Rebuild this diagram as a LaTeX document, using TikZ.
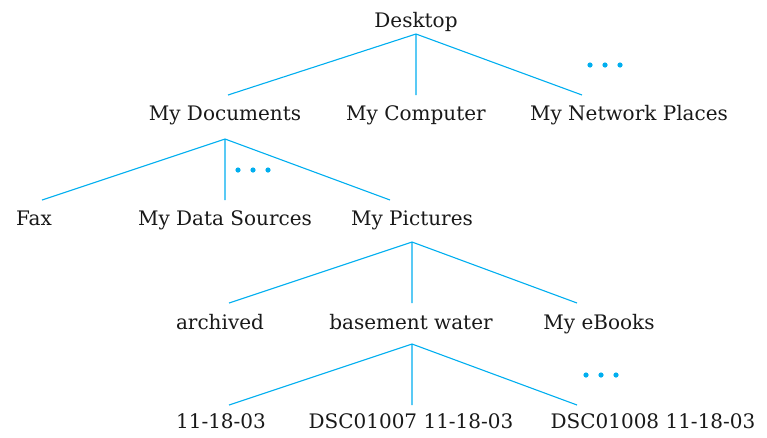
\documentclass[tikz,border=0pt]{standalone}
\usepackage{fontspec}
\setmainfont{DejaVu Serif}
\definecolor{cy}{RGB}{0,174,239}
\begin{document}
\begin{tikzpicture}[x=1pt,y=-1pt,
  lbl/.style={inner sep=0pt,anchor=base,font=\fontsize{20}{24}\selectfont,text=black!90},
  edge/.style={draw=cy,line width=1.1pt},
  dotm/.style={fill=cy,draw=none}]
\useasboundingbox (0,0) rectangle (767,437);
% texts
\node[lbl] (desk) at (416,27) {Desktop};
\node[lbl] (mydoc) at (225,120) {My Documents};
\node[lbl] (mycomp) at (416,120) {My Computer};
\node[lbl] (mynet) at (629,120) {My Network Places};
\node[lbl] (fax) at (34,225) {Fax};
\node[lbl] (mds) at (225,225) {My Data Sources};
\node[lbl] (mypic) at (412,225) {My Pictures};
\node[lbl] (arch) at (220,329) {archived};
\node[lbl] (base) at (411,329) {basement water};
\node[lbl] (ebook) at (599,329) {My eBooks};
\node[lbl] (f1) at (221,428) {11-18-03};
\node[lbl] (f2) at (411,428) {DSC01007 11-18-03};
\node[lbl] (f3) at (653,428) {DSC01008 11-18-03};
% junctions and line ends
\coordinate (j1) at (416,34);
\coordinate (e1a) at (228,95);
\coordinate (e1b) at (416,95);
\coordinate (e1c) at (582,95);
\coordinate (j2) at (225,139);
\coordinate (e2a) at (42,200);
\coordinate (e2b) at (225,200);
\coordinate (e2c) at (390,200);
\coordinate (j3) at (412,242);
\coordinate (e3a) at (229,303);
\coordinate (e3b) at (412,303);
\coordinate (e3c) at (577,303);
\coordinate (j4) at (412,344);
\coordinate (e4a) at (229,405);
\coordinate (e4b) at (412,405);
\coordinate (e4c) at (577,405);
\draw[edge] (e1a) -- (j1) -- (e1c) (j1) -- (e1b);
\draw[edge] (e2a) -- (j2) -- (e2c) (j2) -- (e2b);
\draw[edge] (e3a) -- (j3) -- (e3c) (j3) -- (e3b);
\draw[edge] (e4a) -- (j4) -- (e4c) (j4) -- (e4b);
% dots
\foreach \x in {590,605,620} \fill[dotm] (\x,65) circle (2.6);
\foreach \x in {238,253,268} \fill[dotm] (\x,170) circle (2.6);
\foreach \x in {586,601,616} \fill[dotm] (\x,375) circle (2.6);
\end{tikzpicture}
\end{document}
